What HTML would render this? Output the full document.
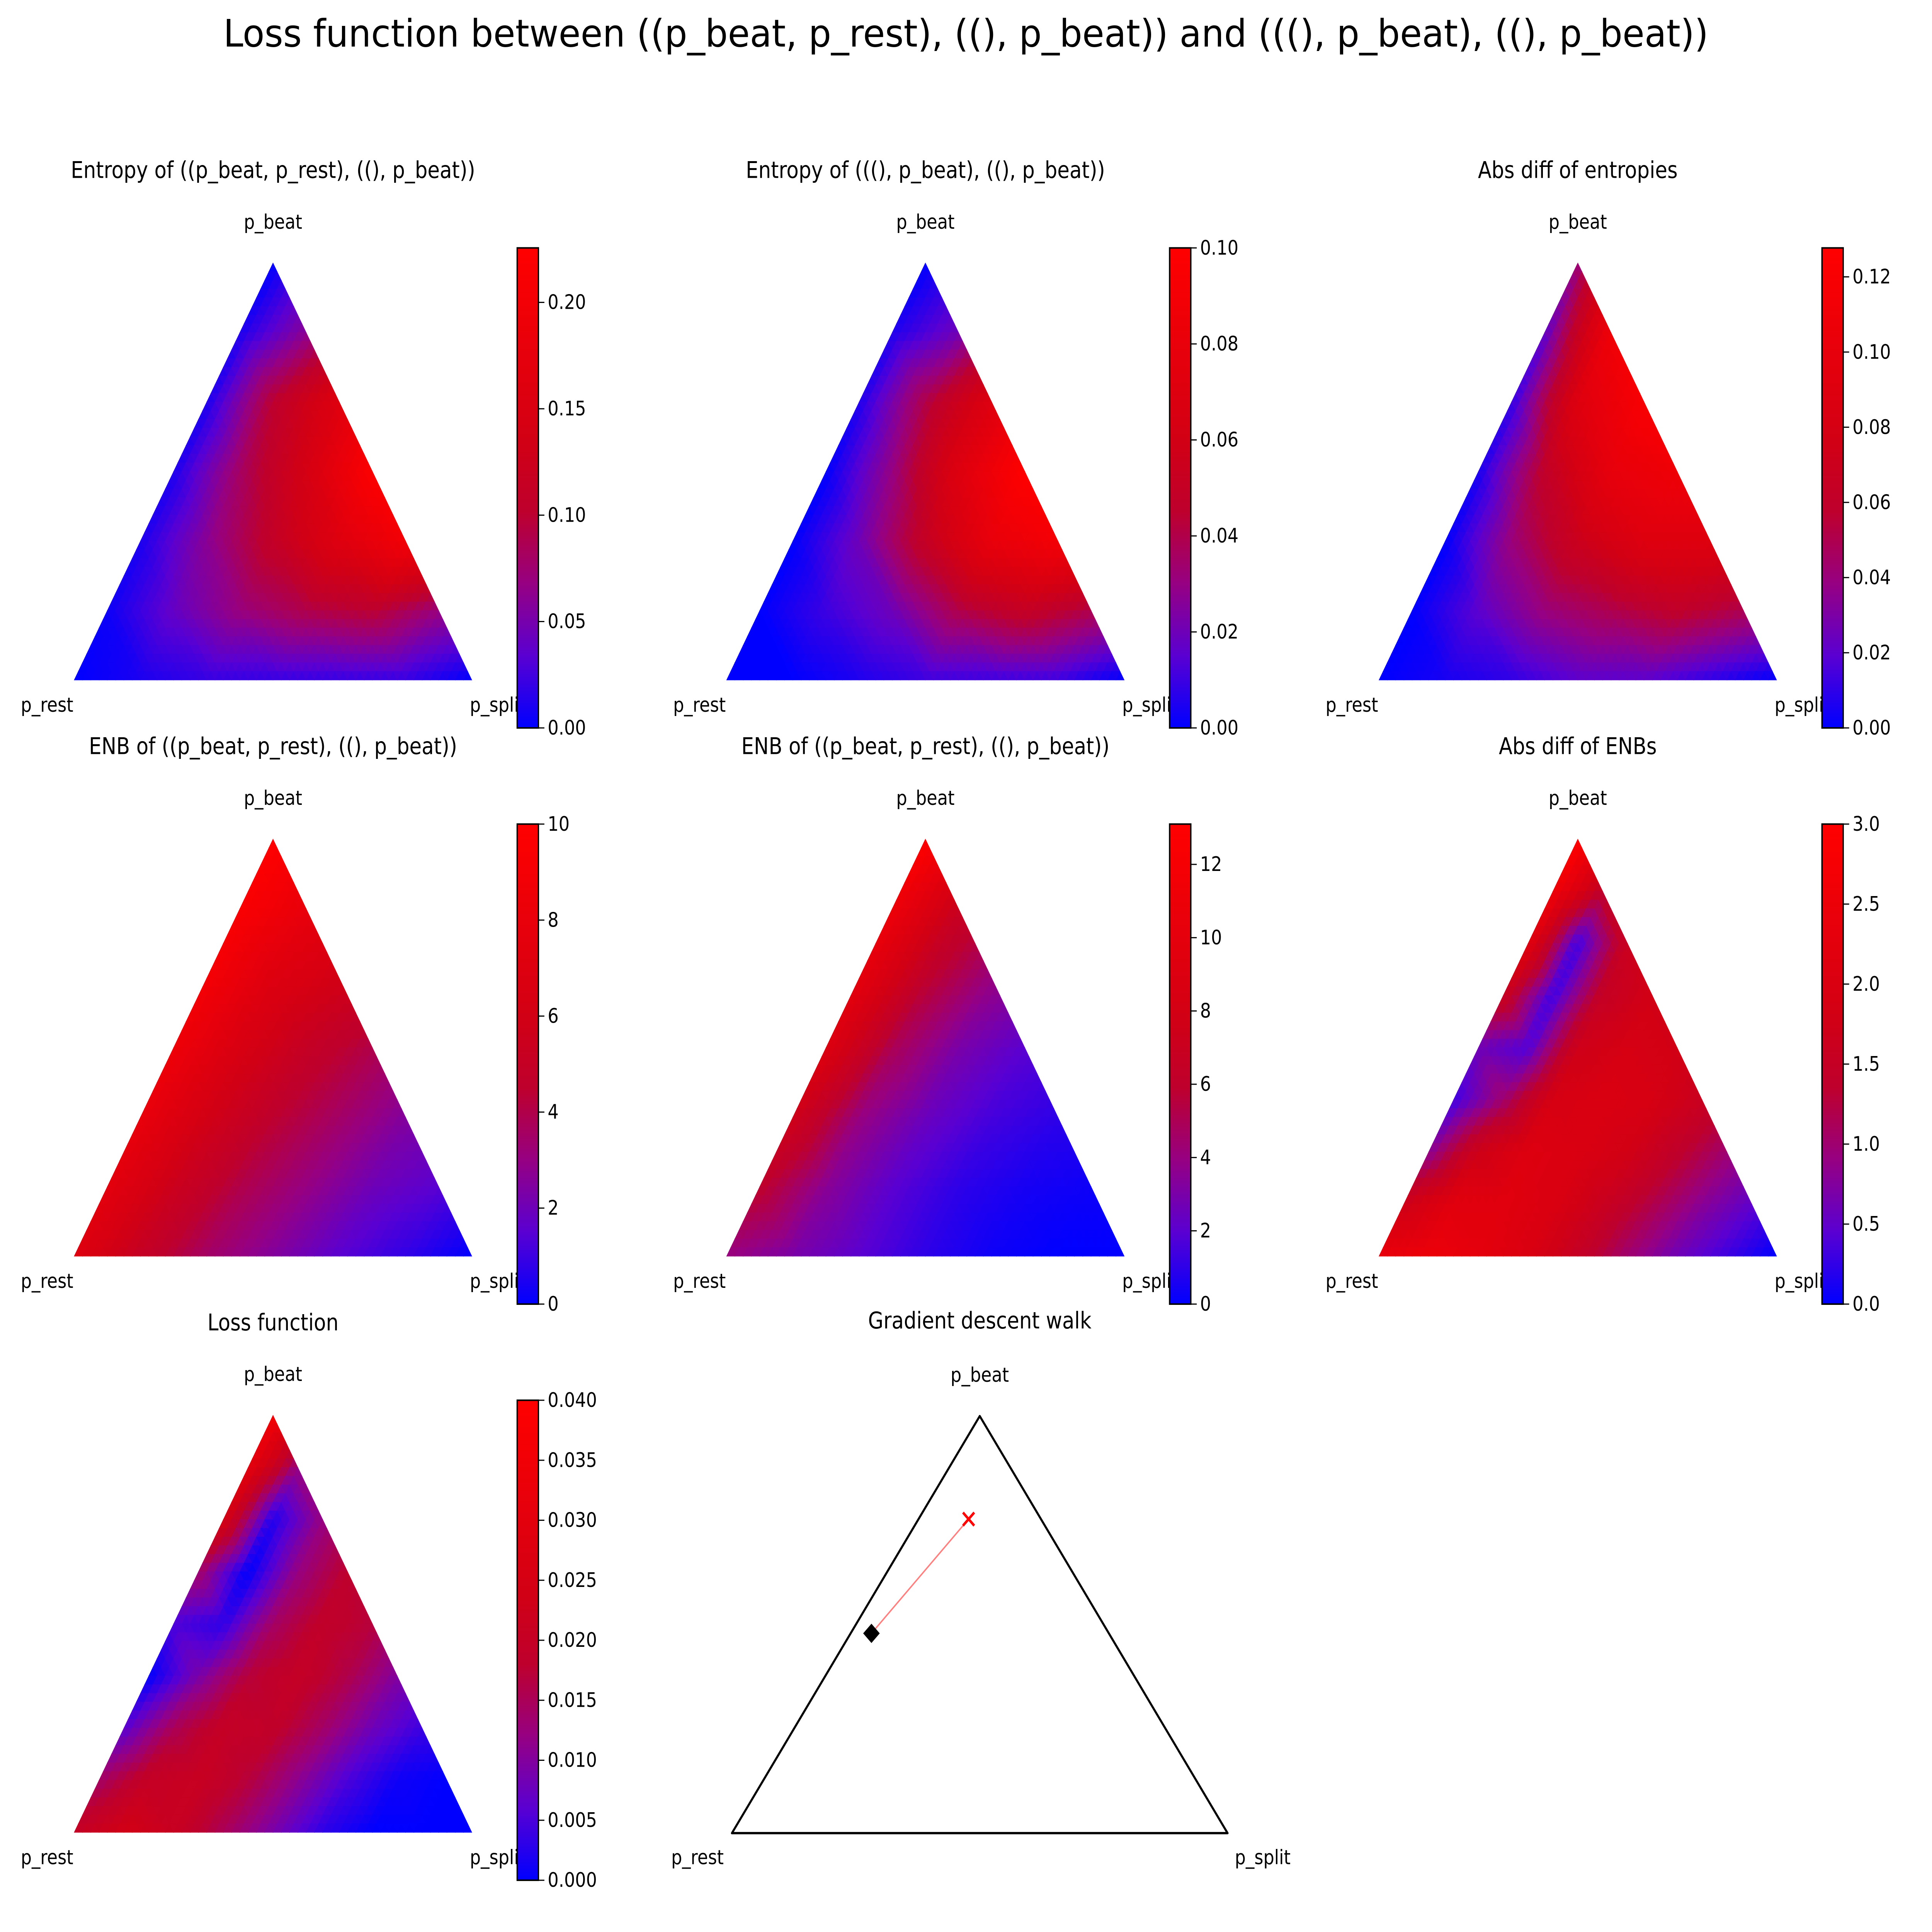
<!DOCTYPE html>
<html><head><meta charset="utf-8"><title>Loss function ternary plots</title>
<style>html,body{margin:0;padding:0;background:#fff;overflow:hidden;width:100%;height:100%}svg{display:block;width:100vw;height:100vh}text{font-family:"DejaVu Sans","Liberation Sans",sans-serif;fill:#000}</style>
</head><body>
<svg id="fig" xmlns="http://www.w3.org/2000/svg" viewBox="0 0 5831 5003" preserveAspectRatio="none">
<defs>
<linearGradient id="cmapGrad" x1="0" y1="1" x2="0" y2="0">
<stop offset="0" stop-color="rgb(0,0,255)"/><stop offset="0.15" stop-color="rgb(90,0,210)"/><stop offset="0.3" stop-color="rgb(150,0,130)"/><stop offset="0.45" stop-color="rgb(190,0,45)"/><stop offset="0.6" stop-color="rgb(210,0,20)"/><stop offset="1" stop-color="rgb(255,0,0)"/>
</linearGradient>
</defs>
<text x="2915" y="87" font-size="98" text-anchor="middle" dominant-baseline="central" textLength="4482" lengthAdjust="spacingAndGlyphs">Loss function between ((p_beat, p_rest), ((), p_beat)) and (((), p_beat), ((), p_beat))</text>
<g id="panels"></g>
</svg>
<script>
// ---- data: values on a triangular lattice, rows from p_beat apex (top) down to base, left (p_rest) to right (p_split)
const entropyA = [[0.0],[0.01,0.06],[0.01,0.10,0.16],[0.01,0.08,0.14,0.22],[0.01,0.06,0.11,0.16,0.20],[0.005,0.04,0.07,0.09,0.10,0.07],[0.0,0.01,0.02,0.02,0.02,0.02,0.0]];
const entropyB = [[0.0],[0.005,0.02],[0.005,0.04,0.07],[0.0,0.03,0.07,0.10],[0.0,0.02,0.05,0.08,0.09],[0.0,0.01,0.02,0.04,0.05,0.04],[0,0,0.005,0.01,0.01,0.01,0]];
const entropyDiff = [[0.04],[0.02,0.11],[0.01,0.09,0.12],[0.005,0.06,0.10,0.11],[0.0,0.04,0.07,0.09,0.09],[0.0,0.02,0.04,0.05,0.06,0.05],[0,0.005,0.01,0.02,0.02,0.01,0]];
const enbA = [[10],[9.5,8],[9,7,6],[8.5,6.5,5,4],[8,6,4.5,3.5,2.5],[7.5,5.5,4,3,2,1.5],[7,5,3.5,2.5,1.5,0.8,0]];
const enbB = [[13],[11,7],[10,6,4],[9,5,3,2],[7.5,4,2.5,1.5,1],[6,3.5,2,1,0.5,0.3],[4,3,2,1,0.3,0,0]];
const enbDiff = [[3],[2.6,1.4],[2.2,0.3,1.6],[1.6,0.3,1.5,1.8],[0.6,0.4,1.7,1.9,1.8],[0.3,1.0,1.9,2.0,1.9,1.6],[0.8,1.7,2.1,2.0,1.8,1.4,1.0],[1.7,2.2,2.2,2.0,1.6,1.2,0.8,0.5],[2.4,2.5,2.3,2.0,1.5,1.0,0.6,0.3,0.0]];
const lossVals = [[0.036],[0.03,0.012],[0.025,0.002,0.012],[0.014,0.0,0.012,0.018],[0.005,0.003,0.014,0.019,0.017],[0.0,0.009,0.017,0.02,0.016,0.01],[0.006,0.015,0.02,0.019,0.014,0.008,0.004],[0.014,0.02,0.021,0.017,0.011,0.005,0.001,0.0],[0.02,0.024,0.021,0.015,0.009,0.003,0,0,0]];
const vmaxes = [0.2256,0.10,0.1277,10,13.1,3.0,0.040];
const ticks1 = [0,0.05,0.10,0.15,0.20]; const labels1 = ["0.00","0.05","0.10","0.15","0.20"];
const ticks2 = [0,0.02,0.04,0.06,0.08,0.10]; const labels2 = ["0.00","0.02","0.04","0.06","0.08","0.10"];
const ticks3 = [0,0.02,0.04,0.06,0.08,0.10,0.12]; const labels3 = ["0.00","0.02","0.04","0.06","0.08","0.10","0.12"];
const ticks4 = [0,2,4,6,8,10]; const labels4 = ["0","2","4","6","8","10"];
const ticks5 = [0,2,4,6,8,10,12]; const labels5 = ["0","2","4","6","8","10","12"];
const ticks6 = [0,0.5,1,1.5,2,2.5,3]; const labels6 = ["0.0","0.5","1.0","1.5","2.0","2.5","3.0"];
const ticks7 = [0,0.005,0.01,0.015,0.02,0.025,0.03,0.035,0.04]; const labels7 = ["0.000","0.005","0.010","0.015","0.020","0.025","0.030","0.035","0.040"];
const titles = ["Entropy of ((p_beat, p_rest), ((), p_beat))","Entropy of (((), p_beat), ((), p_beat))","Abs diff of entropies","ENB of ((p_beat, p_rest), ((), p_beat))","ENB of ((p_beat, p_rest), ((), p_beat))","Abs diff of ENBs","Loss function"];
// gradient walk: barycentric (p_beat, p_split) of start and end
const walkBeat = [0.753, 0.479];
const walkSplit = [0.101, 0.042];

const NS = "http://www.w3.org/2000/svg";
const root = document.getElementById('panels');
function mk(tag, attrs, parent){ const e=document.createElementNS(NS,tag); for(const k in attrs) e.setAttribute(k,attrs[k]); (parent||root).appendChild(e); return e; }
const stops=[[0,[0,0,255]],[0.15,[90,0,210]],[0.3,[150,0,130]],[0.45,[190,0,45]],[0.6,[210,0,20]],[1,[255,0,0]]];
function cmap(t){ t=Math.max(0,Math.min(1,t)); for(let i=1;i<stops.length;i++){ if(t<=stops[i][0]){ const a=stops[i-1],b=stops[i]; const f=(t-a[0])/(b[0]-a[0]); return 'rgb('+a[1].map((c,k)=>Math.round(c+f*(b[1][k]-c))).join(',')+')'; } } return 'rgb(255,0,0)'; }
function valAt(V,u,v){ const N=V.length-1; let a=Math.floor(u); if(a>=N)a=N-1; let fu=u-a; let b=Math.floor(v); if(b>a)b=a; let fv=v-b; if(fv>1)fv=1;
  const A=V[a][b];
  if(fu>=fv){ const B=V[a+1][b], C=V[a+1][b+1]; return A+(fu-fv)*(B-A)+fv*(C-A); }
  const D=V[a][Math.min(b+1,a)], C=V[a+1][b+1]; return A+(fv-fu)*(D-A)+fu*(C-A); }

const datasets=[entropyA,entropyB,entropyDiff,enbA,enbB,enbDiff,lossVals];
const tickSets=[ticks1,ticks2,ticks3,ticks4,ticks5,ticks6,ticks7];
const labelSets=[labels1,labels2,labels3,labels4,labels5,labels6,labels7];
const names=['entropy-a','entropy-b','entropy-diff','enb-a','enb-b','enb-diff','loss'];

datasets.forEach((V,p)=>{
  const r=Math.floor(p/3), c=p%3;
  const ax=824+1969*c, ay=681+1492*r, by=1761+1492*r, lx=224+1969*c, rx=1424+1969*c;
  const W=rx-lx, half=W/2, N=V.length-1, k=Math.round(48/N), M=N*k, vmax=vmaxes[p];
  const g=mk('g',{});
  
  
  const t=mk('text',{x:ax,y:441+1492*r,'font-size':60,'text-anchor':'middle','dominant-baseline':'central'},g); t.textContent=titles[p];
  
  
  const P=(I,J)=>[ax-(I/M)*half+(J/M)*W, ay+(I/M)*(by-ay)];
  const hm=mk('g',{},g);
  
  
  for(let I=0;I<M;I++){ for(let J=0;J<=I;J++){
    const tris=[[[I,J],[I+1,J],[I+1,J+1]]]; if(J<I) tris.push([[I,J],[I,J+1],[I+1,J+1]]);
    tris.forEach(tr=>{ const cu=(tr[0][0]+tr[1][0]+tr[2][0])/3/k, cv=(tr[0][1]+tr[1][1]+tr[2][1])/3/k;
      const col=cmap(valAt(V,cu,cv)/vmax);
      const pts=tr.map(q=>P(q[0],q[1]).map(n=>n.toFixed(1)).join(',')).join(' ');
      const cell=mk('polygon',{points:pts,fill:col,stroke:col,'stroke-width':1.2},hm);
      
       }); } }
  const lb=mk('text',{x:ax,y:ay-106,'font-size':52,'text-anchor':'middle','dominant-baseline':'central'},g); lb.textContent='p_beat';
   
  const lr=mk('text',{x:lx-82,y:by+65,'font-size':52,'text-anchor':'middle','dominant-baseline':'central'},g); lr.textContent='p_rest';
   
  const ls=mk('text',{x:rx-6,y:by+65,'font-size':52,'text-anchor':'start','dominant-baseline':'central'},g); ls.textContent='p_split';
   
  // colorbar
  const cbx=1561+1969*c, cbt=642+1492*r, cbb=1885+1492*r, cbw=64;
  const cb=mk('g',{},g);
   
  mk('rect',{x:cbx,y:cbt,width:cbw,height:cbb-cbt,fill:'url(#cmapGrad)',stroke:'#000','stroke-width':4},cb);
  tickSets[p].forEach((tv,i)=>{ const y=cbb-(tv/vmax)*(cbb-cbt);
    mk('line',{x1:cbx+cbw,x2:cbx+cbw+18,y1:y,y2:y,stroke:'#000','stroke-width':3},cb);
    const tl=mk('text',{x:cbx+cbw+28,y:y,'font-size':52,'dominant-baseline':'central'},cb); tl.textContent=labelSets[p][i];
      });
});

// gradient descent walk panel
(function(){
  const ax=2957, ay=3667, by=4747, lx=2209, rx=3705, W=rx-lx, H=by-ay;
  const g=mk('g',{});  
  const t=mk('text',{x:ax,y:3420,'font-size':60,'text-anchor':'middle','dominant-baseline':'central'},g); t.textContent='Gradient descent walk';
   
  const tri=mk('polygon',{points:`${ax},${ay} ${lx},${by} ${rx},${by}`,fill:'none',stroke:'#000','stroke-width':6,'stroke-linejoin':'round'},g);
   
  const X=i=>lx+(walkSplit[i]+walkBeat[i]/2)*W, Y=i=>by-walkBeat[i]*H;
  const pl=mk('polyline',{points:walkBeat.map((_,i)=>X(i)+','+Y(i)).join(' '),fill:'none',stroke:'#ff7f7f','stroke-width':4},g);
   
  const x0=X(0), y0=Y(0), s=17;
  const cr=mk('path',{d:`M${x0-s},${y0-s}L${x0+s},${y0+s}M${x0-s},${y0+s}L${x0+s},${y0-s}`,stroke:'#ff0000','stroke-width':7},g);
   
  const n=walkBeat.length-1, x1=X(n), y1=Y(n), d=25;
  const dm=mk('polygon',{points:`${x1},${y1-d} ${x1+d},${y1} ${x1},${y1+d} ${x1-d},${y1}`,fill:'#000'},g);
   
  const lb=mk('text',{x:ax,y:ay-106,'font-size':52,'text-anchor':'middle','dominant-baseline':'central'},g); lb.textContent='p_beat';
   
  const lr=mk('text',{x:lx-104,y:by+63,'font-size':52,'text-anchor':'middle','dominant-baseline':'central'},g); lr.textContent='p_rest';
   
  const ls=mk('text',{x:rx+106,y:by+63,'font-size':52,'text-anchor':'middle','dominant-baseline':'central'},g); ls.textContent='p_split';
   
})();
</script>
</body></html>
